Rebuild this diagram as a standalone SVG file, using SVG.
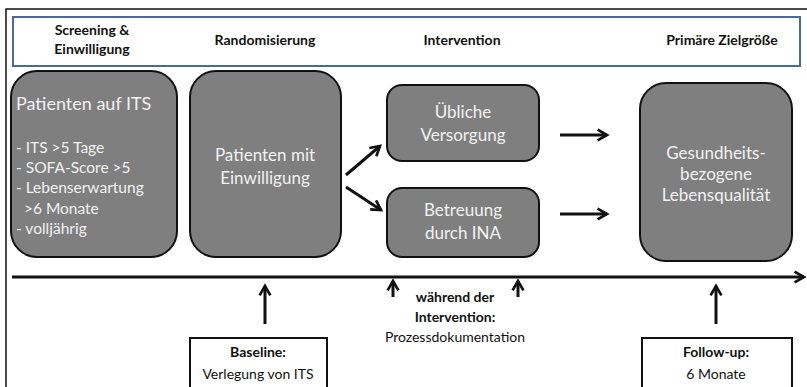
<svg xmlns="http://www.w3.org/2000/svg" width="807" height="387" viewBox="0 0 807 387">
<style>
.node{fill:#7f7f7f;stroke:#111;stroke-width:2}
.wt{fill:#f2f2f2;font-family:Lato,"Open Sans",sans-serif}
.hd{fill:#111;font-family:Lato,"Liberation Sans",sans-serif;font-weight:bold;font-size:14px;text-anchor:middle}
.bt{fill:#111;font-family:Lato,"Liberation Sans",sans-serif;font-size:14px;text-anchor:middle}
.ar{stroke:#111;stroke-width:3;fill:none}
.c{text-anchor:middle}
</style>
<defs>
<marker id="ah" viewBox="0 0 10 10" refX="8" refY="5" markerWidth="4.5" markerHeight="4.5" orient="auto" markerUnits="strokeWidth">
<path d="M1,1 L8,5 L1,9" fill="none" stroke="#111" stroke-width="2"/>
</marker>
</defs>
<rect width="807" height="387" fill="#fff"/>
<path d="M6,387 V9 H807" fill="none" stroke="#111" stroke-width="1.5"/>
<g id="header">
<rect x="13" y="17" width="787" height="49" fill="#fff" stroke="#4a6a95" stroke-width="2"/>
<text class="hd" x="92" y="35">Screening &amp;</text>
<text class="hd" x="92" y="54">Einwilligung</text>
<text class="hd" x="265" y="45">Randomisierung</text>
<text class="hd" x="462" y="45">Intervention</text>
<text class="hd" x="722" y="45">Primäre Zielgröße</text>
</g>
<g id="n1">
<rect class="node" x="11" y="71" width="166" height="186" rx="26"/>
<text class="wt" x="16" y="110" font-size="18">Patienten auf ITS</text>
<text class="wt" font-size="15.5"><tspan x="16" y="153">- ITS &gt;5 Tage</tspan><tspan x="16" y="173">- SOFA-Score &gt;5</tspan><tspan x="16" y="193">- Lebenserwartung</tspan><tspan x="16" y="214"> &#160;&gt;6 Monate</tspan><tspan x="16" y="234">- volljährig</tspan></text>
</g>
<g id="n2">
<rect class="node" x="190" y="71" width="151" height="186" rx="26"/>
<text class="wt c" font-size="17"><tspan x="265" y="161">Patienten mit</tspan><tspan x="265" y="184">Einwilligung</tspan></text>
</g>
<g id="n3">
<rect class="node" x="387" y="85" width="152" height="76" rx="15"/>
<text class="wt c" font-size="17"><tspan x="463" y="118">Übliche</tspan><tspan x="463" y="141">Versorgung</tspan></text>
</g>
<g id="n4">
<rect class="node" x="387" y="188" width="152" height="69" rx="15"/>
<text class="wt c" font-size="17"><tspan x="463" y="216">Betreuung</tspan><tspan x="463" y="239">durch INA</tspan></text>
</g>
<g id="n5">
<rect class="node" x="640" y="83" width="152" height="178" rx="26"/>
<text class="wt c" font-size="17"><tspan x="716" y="159">Gesundheits-</tspan><tspan x="716" y="180">bezogene</tspan><tspan x="716" y="201">Lebensqualität</tspan></text>
</g>
<g id="n6">
<rect x="190" y="338" width="137" height="52" fill="#fff" stroke="#111" stroke-width="2"/>
<text class="hd" x="258" y="357">Baseline:</text>
<text class="bt" x="258" y="379">Verlegung von ITS</text>
</g>
<g id="n7">
<rect x="642" y="338" width="150" height="52" fill="#fff" stroke="#111" stroke-width="2"/>
<text class="hd" x="716" y="357">Follow-up:</text>
<text class="bt" x="716" y="379">6 Monate</text>
</g>
<g id="n8">
<text class="hd" x="455" y="302">während der</text>
<text class="hd" x="455" y="322">Intervention:</text>
<text class="bt" x="455" y="342">Prozessdokumentation</text>
</g>
<g id="connectors">
<line class="ar" x1="12" y1="277" x2="804" y2="277" marker-end="url(#ah)"/>
<line class="ar" x1="346" y1="175" x2="380" y2="146" marker-end="url(#ah)"/>
<line class="ar" x1="346" y1="187" x2="381" y2="210" marker-end="url(#ah)"/>
<line class="ar" x1="560" y1="135" x2="607" y2="135" marker-end="url(#ah)"/>
<line class="ar" x1="560" y1="214" x2="607" y2="214" marker-end="url(#ah)"/>
<line class="ar" x1="265" y1="324" x2="265" y2="286" marker-end="url(#ah)"/>
<line class="ar" x1="716" y1="324" x2="716" y2="286" marker-end="url(#ah)"/>
<line class="ar" x1="393" y1="297" x2="393" y2="281" marker-end="url(#ah)"/>
<line class="ar" x1="518" y1="297" x2="518" y2="281" marker-end="url(#ah)"/>
</g>
</svg>
